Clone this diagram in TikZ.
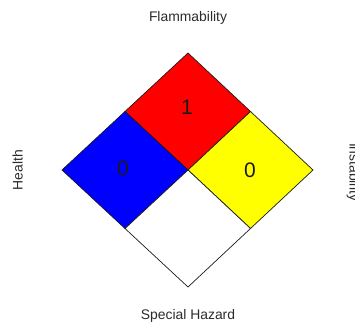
\documentclass[tikz,border=0pt]{standalone}
\usepackage{fontspec}
\setmainfont{Liberation Sans}
\usetikzlibrary{calc}
\definecolor{nfInk}{HTML}{1A1A1A}
\definecolor{nfGrey}{HTML}{2B2B2B}
\definecolor{nfRed}{HTML}{FF0000}
\definecolor{nfBlue}{HTML}{0000FF}
\definecolor{nfYellow}{HTML}{FFFF00}
\tikzset{
  quad/.style={draw=nfInk, line width=0.7pt, line join=miter},
  side/.style={font=\fontsize{13.9}{16}\selectfont, text=nfGrey, inner sep=0pt, anchor=base},
  num/.style={font=\fontsize{21}{24}\selectfont, text=nfInk, inner sep=0pt},
}
\begin{document}
\begin{tikzpicture}[x=1pt, y=-1pt]
  \useasboundingbox (0,0) rectangle (355,323);
  % corners of the hazard diamond
  \coordinate (top) at (188,53);
  \coordinate (lft) at (62,170);
  \coordinate (rgt) at (313,170);
  \coordinate (bot) at (188,287);
  \coordinate (mid) at (188,170);
  \coordinate (tl) at ($(top)!0.5!(lft)$);
  \coordinate (tr) at ($(top)!0.5!(rgt)$);
  \coordinate (bl) at ($(bot)!0.5!(lft)$);
  \coordinate (br) at ($(bot)!0.5!(rgt)$);
  % the four quarters
  \filldraw[quad, fill=nfRed] (top) -- (tr) -- (mid) -- (tl) -- cycle;
  \filldraw[quad, fill=nfBlue] (tl) -- (mid) -- (bl) -- (lft) -- cycle;
  \filldraw[quad, fill=nfYellow] (tr) -- (rgt) -- (br) -- (mid) -- cycle;
  \filldraw[quad, fill=white] (mid) -- (br) -- (bot) -- (bl) -- cycle;
  % ratings
  \node[num] (fire) at (187,107) {1};
  \node[num] (health) at (123,168) {0};
  \node[num] (react) at (250,170) {0};
  % category labels
  \node[side] (flam) at (188,21.5) {Flammability};
  \node[side, rotate=90] (hlth) at (22.5,170) {Health};
  \node[side, rotate=-90] (inst) at (349.5,172) {Instability};
  \node[side] (spec) at (188,319) {Special Hazard};
\end{tikzpicture}
\end{document}
